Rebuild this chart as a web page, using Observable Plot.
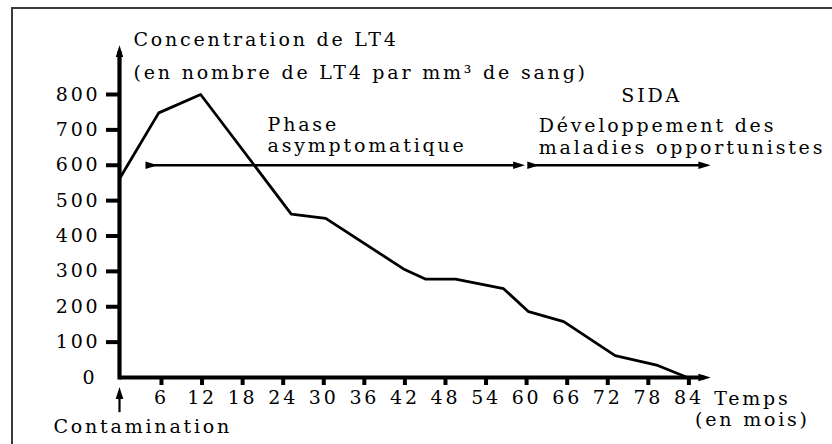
<!DOCTYPE html>
<html>
<head>
<meta charset="utf-8">
<script src="https://cdn.jsdelivr.net/npm/d3@7"></script>
<script src="https://cdn.jsdelivr.net/npm/@observablehq/plot@0.6"></script>
<style>
  html, body { margin: 0; padding: 0; background: white; }
  #wrap { position: relative; width: 832px; height: 444px; overflow: hidden; }
  #border { position: absolute; left: 11px; top: 7px; right: -20px; bottom: -20px;
            border-left: 2px solid #3a3a3a; border-top: 2px solid #3a3a3a; pointer-events: none; }
</style>
</head>
<body>
<div id="wrap"><div id="border"></div></div>
<script>
// Data
const months = [0, 5.8, 12, 25.4, 30.5, 42, 45.3, 49.7, 56.8, 60.5, 65.7, 73.3, 79.6, 84];
const lt4 = [562, 748, 800, 462, 450, 307, 278, 278, 251, 186, 158, 62, 34, 0];
const xTicks = [6, 12, 18, 24, 30, 36, 42, 48, 54, 60, 66, 72, 78, 84];
const yTicks = [100, 200, 300, 400, 500, 600, 700, 800];
const titleLine1 = "Concentration de LT4";
const titleLine2 = "(en nombre de LT4 par mm³ de sang)";
const phaseLabel = "Phase\nasymptomatique";
const sidaLabel = "SIDA";
const sidaDesc = "Développement des\nmaladies opportunistes";
const xLabel = "Temps\n(en mois)";
const originLabel = "Contamination";
const phaseBoundary = 60;
const phaseLevel = 600;

const data = months.map((m, i) => ({month: m, value: lt4[i]}));
const note = (t, x, y, o = {}) => Plot.text([{t, x, y}], {x: "x", y: "y", text: "t", lineAnchor: "bottom", ...o});

const chart = Plot.plot({
  width: 832,
  height: 444,
  marginLeft: 119,
  marginRight: 145,
  marginTop: 94,
  marginBottom: 67,
  style: {fontFamily: "DejaVu Serif", fontSize: "19px", letterSpacing: "2.8px", color: "black", background: "white"},
  x: {domain: [0, 84], label: null},
  y: {domain: [0, 800], label: null},
  marks: [
    // axes lines with arrows
    Plot.link([0], {x1: 0, y1: -6, x2: 0, y2: 922, stroke: "black", strokeWidth: 4.2, markerEnd: "arrow"}),
    Plot.link([0], {x1: 0, y1: 0, x2: 86.5, y2: 0, stroke: "black", strokeWidth: 4, markerEnd: "arrow"}),
    // ticks and labels
    Plot.axisX(xTicks, {anchor: "bottom", tickSize: 8, tickPadding: 5, strokeWidth: 4, label: null, dx: 1.4}),
    Plot.axisY(yTicks, {anchor: "left", tickSize: 13, tickPadding: 6, strokeWidth: 4, label: null}),
    Plot.axisY([0], {anchor: "left", tickSize: 0, tickPadding: 22, label: null}),
    // phase arrows
    Plot.link([0], {x1: 4.73, y1: phaseLevel, x2: phaseBoundary - 0.9, y2: phaseLevel, stroke: "black", strokeWidth: 2.3, markerStart: "arrow", markerEnd: "arrow"}),
    Plot.link([0], {x1: phaseBoundary + 1.2, y1: phaseLevel, x2: 86.5, y2: phaseLevel, stroke: "black", strokeWidth: 2.3, markerStart: "arrow", markerEnd: "arrow"}),
    // contamination arrow
    Plot.link([0], {x1: 0, y1: -98, x2: 0, y2: -44, stroke: "black", strokeWidth: 2.2, markerEnd: "arrow"}),
    // data line
    Plot.line(data, {x: "month", y: "value", stroke: "black", strokeWidth: 2.8}),
    // texts
    note(titleLine1, 2.07, 938.5, {textAnchor: "start"}),
    note(titleLine2, 2.07, 845.2, {textAnchor: "start"}),
    note(phaseLabel, 21.9, 636.9, {textAnchor: "start", lineHeight: 1.12}),
    note(sidaLabel, 78.7, 778, {textAnchor: "middle"}),
    note(sidaDesc, 62.0, 633.2, {textAnchor: "start", lineHeight: 1.12}),
    note(xLabel, 93.6, -137, {textAnchor: "middle", lineHeight: 1.12}),
    note(originLabel, -9.76, -158.3, {textAnchor: "start"})
  ]
});

// filled, narrow arrowheads
chart.querySelectorAll("marker").forEach(m => {
  const color = m.getAttribute("stroke") || "black";
  m.setAttribute("viewBox", "-10 -5 10 10");
  m.setAttribute("markerUnits", "userSpaceOnUse");
  m.setAttribute("markerWidth", 12);
  m.setAttribute("markerHeight", 12);
  m.setAttribute("refX", -5);
  m.setAttribute("refY", 0);
  m.setAttribute("fill", color);
  m.setAttribute("stroke", "none");
  while (m.firstChild) m.removeChild(m.firstChild);
  const p = document.createElementNS("http://www.w3.org/2000/svg", "path");
  p.setAttribute("d", "M-10,-3.2L0,0L-10,3.2Z");
  m.appendChild(p);
});

const wrap = document.getElementById("wrap");
wrap.insertBefore(chart, wrap.firstChild);
</script>
</body>
</html>
